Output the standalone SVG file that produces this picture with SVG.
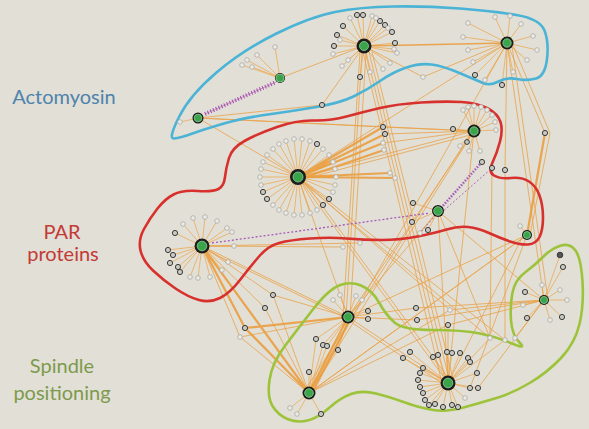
<svg xmlns="http://www.w3.org/2000/svg" width="589" height="429" viewBox="0 0 589 429">
<style>
.bg{fill:#e1dfd6}
.e{stroke:#eaa24a;stroke-width:1;fill:none;opacity:.8}
.eb{stroke:#eb9a35;stroke-width:2.2;fill:none;opacity:.85}
.s{stroke:#eca850;stroke-width:.9;fill:none;opacity:.85}
.d{fill:#c9c9c2;stroke:#3a3a3a;stroke-width:1}
.l{fill:#ecebe6;stroke:#a9a9a4;stroke-width:.8}
.hb{fill:#1d1d1b}
.hg{fill:#3aa44a;stroke:#8fd09a;stroke-width:.8}
.loop{fill:none;stroke-width:2.6;stroke-linejoin:round}
.lab{font-family:Lato,"Open Sans","DejaVu Sans",sans-serif;font-size:20px;text-anchor:middle}
.pd{fill:none;stroke:#a65bb8;stroke-width:1.3;stroke-dasharray:2 2}
</style>
<rect class="bg" width="589" height="429"/>
<g id="labels">
<text class="lab" x="64" y="104" fill="#4d83ad">Actomyosin</text>
<text class="lab" x="62" y="239" fill="#c33a36">PAR</text>
<text class="lab" x="63" y="261" fill="#c33a36">proteins</text>
<text class="lab" x="62" y="373" fill="#7d9a4c">Spindle</text>
<text class="lab" x="62" y="400" fill="#7d9a4c">positioning</text>
</g>
<g id="connectors">
<path class="s" d="M364 46L357 15M364 46L363 15M364 46L380 21M364 46L385 25M364 46L392 32M364 46L395 43M364 46L343 26M364 46L337 35M364 46L334 46M364 46L360 77M364 46L333 54M364 46L342 66M364 46L390 63M364 46L397 53M364 46L350 18M364 46L372 16M364 46L370 72M364 46L383 69M364 46L348 60M364 46L394 49M364 46L340 40M364 46L388 28M364 46L376 18"/>
<path class="s" d="M507 43L475 75M507 43L502 85M507 43L468 23M507 43L463 37M507 43L495 17M507 43L510 16M507 43L537 50M507 43L527 60M507 43L485 80M507 43L513 72M507 43L473 62M507 43L521 24M507 43L533 36M507 43L468 50"/>
<path class="s" d="M280 78L275 47M280 78L257 55M280 78L247 60M280 78L242 65M280 78L252 67M198 118L180 122"/>
<path class="s" d="M298 177L336 177M298 177L335 185M298 177L333 192M298 177L329 199M298 177L323 205M298 177L317 210M298 177L310 213M298 177L302 215M298 177L294 215M298 177L286 213M298 177L279 210M298 177L273 205M298 177L267 199M298 177L263 192M298 177L261 185M298 177L260 177M298 177L261 169M298 177L263 162M298 177L267 155M298 177L273 149M298 177L279 144M298 177L286 141M298 177L294 139M298 177L302 139M298 177L310 141M298 177L317 144M298 177L323 149M298 177L329 155M298 177L333 162M298 177L335 169"/>
<path class="s" d="M474 131L463 110M474 131L468 107M474 131L474 106M474 131L481 107M474 131L487 110M474 131L492 115M474 131L495 122M474 131L496 130M474 131L460 146M474 131L469 151M474 131L480 151M474 131L453 129M474 131L467 142"/>
<path class="s" d="M438 211L413 203M438 211L412 222M438 211L428 230M438 211L420 233"/>
<path class="s" d="M202 246L175 233M202 246L168 250M202 246L173 255M202 246L170 263M202 246L178 267M202 246L180 272M202 246L183 224M202 246L193 218M202 246L205 217M202 246L217 221M202 246L227 228M202 246L232 232M202 246L228 262M202 246L222 270M202 246L210 277M202 246L198 278M202 246L190 277M202 246L234 246"/>
<path class="s" d="M348 317L368 311M348 317L368 319M348 317L340 295M348 317L362 300M348 317L333 300M348 317L356 296M348 317L316 339M348 317L323 345M348 317L327 346M348 317L338 350"/>
<path class="s" d="M309 393L321 414M309 393L309 372M309 393L290 408M309 393L297 414M309 393L316 339M309 393L323 345M309 393L327 346M309 393L338 350"/>
<path class="s" d="M448 383L420 373M448 383L418 380M448 383L420 387M448 383L423 393M448 383L425 400M448 383L429 405M448 383L435 404M448 383L443 407M448 383L452 405M448 383L458 407M448 383L470 388M448 383L478 388M448 383L477 373M448 383L468 358M448 383L470 362M448 383L460 353M448 383L452 353M448 383L447 352M448 383L438 355M448 383L433 357M448 383L423 368M448 383L410 352M448 383L403 358M448 383L465 398M448 383L490 338M448 383L505 340"/>
<path class="s" d="M544 300L560 255M544 300L563 267M544 300L525 292M544 300L527 318M544 300L562 317M544 300L523 305M544 300L567 300M544 300L560 290M544 300L542 285M544 300L550 320M527 235L520 226"/>
<path class="eb" d="M298 177L383 127M298 177L385 134M298 177L383 143M300 179L384 150M298 177L390 173M298 177L395 178"/>
<path class="e" d="M383 127L474 131M385 134L474 131M383 143L474 131M298 177L474 131M300 180L474 134"/>
<path class="eb" d="M364 46L507 43" style="stroke-width:1.6"/>
<path class="e" d="M364 46L280 78M198 118L322 105M322 105L364 46M198 118L383 127M198 118L474 131M198 118L298 177"/>
<path class="e" d="M362 52L346 317M366 52L350 317M360 52L343 317M366 52L446 383M369 52L450 383M372 52L454 383M363 52L442 383"/>
<path class="e" d="M507 43L298 177M507 43L545 133M512 43L550 133M507 43L505 170M507 43L544 300M512 46L548 300M507 43L309 393M500 45L423 77M423 77L364 46"/>
<path class="eb" d="M545 133L527 235"/>
<path class="e" d="M550 133L530 235M298 177L348 317M298 177L448 383M301 177L452 383M298 177L505 340M300 180L490 338M298 177L450 310"/>
<path class="e" d="M474 131L309 393M474 131L348 317M474 131L448 383M470 135L305 390M438 211L348 317M438 211L448 383M438 211L544 300M438 211L490 338"/>
<path class="eb" d="M202 246L245 328M245 328L309 393M202 246L309 393M245 328L348 317"/>
<path class="e" d="M202 246L273 295M273 295L309 393M202 246L265 308M265 308L309 393M202 246L348 317M204 249L350 320M202 246L343 247M202 246L360 243M202 246L240 337M240 337L348 317M240 337L309 393M273 295L348 317"/>
<path class="e" d="M527 235L309 393M527 235L313 390M527 235L348 317M527 235L470 388M522 238L448 383"/>
<path class="eb" d="M348 317L309 393M351 318L312 393"/>
<path class="e" d="M348 317L448 383M348 320L446 386M348 317L416 308M416 308L544 300M348 317L417 320M417 320L544 300M309 393L450 310M450 310L544 300M309 393L448 325M448 325L544 300M448 325L448 383M544 300L478 388M515 338L544 300M505 170L505 340M492 168L490 338"/>
<path d="M205 114L276 82" fill="none" stroke="#d58ab8" stroke-width="1"/>
<path d="M205 114L276 82" fill="none" stroke="#9c4fb4" stroke-width="4" stroke-dasharray="1 2"/>
<path class="pd" d="M212 243L430 213"/>
<path d="M441 208L482 162" fill="none" stroke="#a65bb8" stroke-width="2.5" stroke-dasharray="1.5 1.5"/>
<path class="pd" d="M441 213L492 168M436 215L420 233" style="stroke-width:.9"/>
</g>
<g id="groups">
<path class="loop" stroke="#4bb4d6" d="M174,138.5 Q168,139 179,117 Q190,95 216.5,72.5 Q243,50 276.5,33.5 Q310,17 335,12 Q360,7 393.5,6.5 Q427,6 460,8.5 Q493,11 516.5,15 Q540,19 544.5,30.5 Q549,42 547,59 Q545,76 536,78.5 Q527,81 517,79 Q507,77 498.5,81.5 Q490,86 483,83 Q476,80 459.5,73 Q443,66 431.5,64.5 Q420,63 406.5,67.5 Q393,72 380,81 Q367,90 353.5,96.5 Q340,103 316.5,107 Q293,111 268,114.5 Q243,118 224,123.5 Q205,129 192.5,133.5 Q180,138 174,138.5 Z"/>
<path class="loop" stroke="#d8312d" d="M140.5,250.5 Q138,240 144,229 Q150,218 157.5,208.5 Q165,199 173.5,194.5 Q182,190 197.5,191 Q213,192 218.5,189 Q224,186 225,177 Q226,168 229,158 Q232,148 244.5,141 Q257,134 277,127 Q297,120 313.5,120.5 Q330,121 346.5,116.5 Q363,112 380,108 Q397,104 421,102.5 Q445,101 461.5,102 Q478,103 488,108.5 Q498,114 500.5,122 Q503,130 500,141.5 Q497,153 492.5,162.5 Q488,172 494,175.5 Q500,179 511,178 Q522,177 529,181.5 Q536,186 539.5,195.5 Q543,205 543,217.5 Q543,230 539.5,237 Q536,244 528,244.5 Q520,245 510,241.5 Q500,238 489,233 Q478,228 468,227 Q458,226 446.5,229.5 Q435,233 417.5,236.5 Q400,240 381.5,240 Q363,240 346.5,238.5 Q330,237 310,238.5 Q290,240 279,243 Q268,246 259,256.5 Q250,267 240,280 Q230,293 220,298 Q210,303 199,300 Q188,297 175.5,288.5 Q163,280 153,270.5 Q143,261 140.5,250.5 Z"/>
<path class="loop" stroke="#9dc33b" d="M272.5,406 Q267,397 269.5,380 Q272,363 284.5,346.5 Q297,330 312.5,310 Q328,290 339,285.5 Q350,281 361,285.5 Q372,290 379,302.5 Q386,315 394.5,322.5 Q403,330 433,330 Q463,330 480,333.5 Q497,337 512,343.5 Q527,350 519.5,342.5 Q512,335 511,320 Q510,305 512.5,292.5 Q515,280 525,272.5 Q535,265 543.5,256.5 Q552,248 561,245.5 Q570,243 575.5,250.5 Q581,258 582.5,281.5 Q584,305 579.5,324 Q575,343 561.5,357.5 Q548,372 530.5,382.5 Q513,393 496.5,398 Q480,403 463.5,407.5 Q447,412 433.5,410 Q420,408 405,402.5 Q390,397 376,393.5 Q362,390 351,394 Q340,398 329,408 Q318,418 307.5,420.5 Q297,423 287.5,419 Q278,415 272.5,406 Z"/>
</g>
<g id="leaves">
<circle class="d" cx="357" cy="15" r="2.6"/><circle class="d" cx="363" cy="15" r="2.6"/><circle class="d" cx="380" cy="21" r="2.6"/><circle class="d" cx="385" cy="25" r="2.6"/><circle class="d" cx="392" cy="32" r="2.6"/><circle class="d" cx="395" cy="43" r="2.6"/><circle class="d" cx="343" cy="26" r="2.6"/><circle class="d" cx="337" cy="35" r="2.6"/><circle class="d" cx="334" cy="46" r="2.6"/><circle class="d" cx="360" cy="77" r="2.6"/>
<circle class="l" cx="333" cy="54" r="2.3"/><circle class="l" cx="342" cy="66" r="2.3"/><circle class="l" cx="390" cy="63" r="2.3"/><circle class="l" cx="397" cy="53" r="2.3"/><circle class="l" cx="350" cy="18" r="2.3"/><circle class="l" cx="372" cy="16" r="2.3"/><circle class="l" cx="370" cy="72" r="2.3"/><circle class="l" cx="383" cy="69" r="2.3"/><circle class="l" cx="348" cy="60" r="2.3"/><circle class="l" cx="394" cy="49" r="2.3"/><circle class="l" cx="340" cy="40" r="2.3"/><circle class="l" cx="388" cy="28" r="2.3"/><circle class="l" cx="376" cy="18" r="2.3"/>
<circle class="d" cx="475" cy="75" r="2.6"/><circle class="d" cx="502" cy="85" r="2.6"/>
<circle class="l" cx="468" cy="23" r="2.3"/><circle class="l" cx="463" cy="37" r="2.3"/><circle class="l" cx="495" cy="17" r="2.3"/><circle class="l" cx="510" cy="16" r="2.3"/><circle class="l" cx="537" cy="50" r="2.3"/><circle class="l" cx="527" cy="60" r="2.3"/><circle class="l" cx="485" cy="80" r="2.3"/><circle class="l" cx="513" cy="72" r="2.3"/><circle class="l" cx="473" cy="62" r="2.3"/><circle class="l" cx="521" cy="24" r="2.3"/><circle class="l" cx="533" cy="36" r="2.3"/><circle class="l" cx="468" cy="50" r="2.3"/>
<circle class="l" cx="275" cy="47" r="2.3"/><circle class="l" cx="257" cy="55" r="2.3"/><circle class="l" cx="247" cy="60" r="2.3"/><circle class="l" cx="242" cy="65" r="2.3"/><circle class="l" cx="252" cy="67" r="2.3"/><circle class="l" cx="180" cy="122" r="2.3"/><circle class="l" cx="423" cy="77" r="2.3"/>
<circle class="d" cx="322" cy="105" r="2.6"/>
<circle class="l" cx="336" cy="177" r="2.3"/><circle class="l" cx="335" cy="185" r="2.3"/><circle class="l" cx="333" cy="192" r="2.3"/><circle class="d" cx="329" cy="199" r="2.6"/><circle class="d" cx="323" cy="205" r="2.6"/><circle class="l" cx="317" cy="210" r="2.3"/><circle class="l" cx="310" cy="213" r="2.3"/><circle class="l" cx="302" cy="215" r="2.3"/><circle class="l" cx="294" cy="215" r="2.3"/><circle class="l" cx="286" cy="213" r="2.3"/><circle class="l" cx="279" cy="210" r="2.3"/><circle class="l" cx="273" cy="205" r="2.3"/><circle class="d" cx="267" cy="199" r="2.6"/><circle class="d" cx="263" cy="192" r="2.6"/><circle class="l" cx="261" cy="185" r="2.3"/><circle class="l" cx="260" cy="177" r="2.3"/><circle class="l" cx="261" cy="169" r="2.3"/><circle class="l" cx="263" cy="162" r="2.3"/><circle class="l" cx="267" cy="155" r="2.3"/><circle class="l" cx="273" cy="149" r="2.3"/><circle class="l" cx="279" cy="144" r="2.3"/><circle class="l" cx="286" cy="141" r="2.3"/><circle class="l" cx="294" cy="139" r="2.3"/><circle class="l" cx="302" cy="139" r="2.3"/><circle class="l" cx="310" cy="141" r="2.3"/><circle class="d" cx="317" cy="144" r="2.6"/><circle class="l" cx="323" cy="149" r="2.3"/><circle class="l" cx="329" cy="155" r="2.3"/><circle class="l" cx="333" cy="162" r="2.3"/><circle class="l" cx="335" cy="169" r="2.3"/>
<circle class="d" cx="383" cy="127" r="2.6"/><circle class="d" cx="385" cy="134" r="2.6"/><circle class="l" cx="383" cy="143" r="2.3"/><circle class="l" cx="384" cy="150" r="2.3"/><circle class="l" cx="390" cy="173" r="2.3"/><circle class="l" cx="395" cy="178" r="2.3"/>
<circle class="l" cx="463" cy="110" r="2.3"/><circle class="l" cx="468" cy="107" r="2.3"/><circle class="l" cx="474" cy="106" r="2.3"/><circle class="l" cx="481" cy="107" r="2.3"/><circle class="l" cx="487" cy="110" r="2.3"/><circle class="l" cx="492" cy="115" r="2.3"/><circle class="l" cx="495" cy="122" r="2.3"/><circle class="l" cx="496" cy="130" r="2.3"/><circle class="l" cx="460" cy="146" r="2.3"/><circle class="l" cx="469" cy="151" r="2.3"/><circle class="l" cx="480" cy="151" r="2.3"/><circle class="d" cx="453" cy="129" r="2.6"/><circle class="d" cx="467" cy="142" r="2.4"/>
<circle class="d" cx="413" cy="203" r="2.6"/><circle class="d" cx="412" cy="222" r="2.6"/><circle class="d" cx="428" cy="230" r="2.6"/><circle class="l" cx="420" cy="233" r="2.3"/><circle class="d" cx="482" cy="162" r="2.6"/><circle class="d" cx="492" cy="168" r="2.6"/><circle class="d" cx="505" cy="170" r="2.6"/><circle class="d" cx="545" cy="133" r="2.6"/>
<circle class="d" cx="175" cy="233" r="2.6"/><circle class="d" cx="168" cy="250" r="2.6"/><circle class="d" cx="173" cy="255" r="2.6"/><circle class="d" cx="170" cy="263" r="2.6"/><circle class="d" cx="178" cy="267" r="2.6"/><circle class="d" cx="180" cy="272" r="2.6"/>
<circle class="l" cx="183" cy="224" r="2.3"/><circle class="l" cx="193" cy="218" r="2.3"/><circle class="l" cx="205" cy="217" r="2.3"/><circle class="l" cx="217" cy="221" r="2.3"/><circle class="l" cx="227" cy="228" r="2.3"/><circle class="l" cx="232" cy="232" r="2.3"/><circle class="l" cx="228" cy="262" r="2.3"/><circle class="l" cx="222" cy="270" r="2.3"/><circle class="l" cx="210" cy="277" r="2.3"/><circle class="l" cx="198" cy="278" r="2.3"/><circle class="l" cx="190" cy="277" r="2.3"/><circle class="l" cx="234" cy="246" r="2.3"/>
<circle class="l" cx="343" cy="247" r="2.3"/><circle class="l" cx="360" cy="243" r="2.3"/><circle class="l" cx="520" cy="226" r="2.3"/>
<circle class="d" cx="273" cy="295" r="2.6"/><circle class="d" cx="265" cy="308" r="2.6"/><circle class="d" cx="245" cy="328" r="2.6"/><circle class="l" cx="240" cy="337" r="2.3"/>
<circle class="d" cx="368" cy="311" r="2.6"/><circle class="d" cx="368" cy="319" r="2.6"/><circle class="l" cx="340" cy="295" r="2.3"/><circle class="l" cx="362" cy="300" r="2.3"/><circle class="l" cx="333" cy="300" r="2.3"/><circle class="l" cx="356" cy="296" r="2.3"/>
<circle class="d" cx="316" cy="339" r="2.6"/><circle class="d" cx="323" cy="345" r="2.6"/><circle class="d" cx="327" cy="346" r="2.6"/><circle class="d" cx="338" cy="350" r="2.6"/><circle class="d" cx="309" cy="372" r="2.6"/>
<circle class="d" cx="321" cy="414" r="2.6"/><circle class="l" cx="290" cy="408" r="2.3"/><circle class="l" cx="297" cy="414" r="2.3"/>
<circle class="d" cx="416" cy="308" r="2.6"/><circle class="d" cx="417" cy="320" r="2.6"/><circle class="d" cx="448" cy="325" r="2.6"/><circle class="l" cx="450" cy="310" r="2.3"/><circle class="l" cx="490" cy="338" r="2.3"/><circle class="l" cx="505" cy="340" r="2.3"/><circle class="l" cx="515" cy="338" r="2.3"/>
<circle class="d" cx="420" cy="373" r="2.6"/><circle class="d" cx="418" cy="380" r="2.6"/><circle class="d" cx="420" cy="387" r="2.6"/><circle class="d" cx="423" cy="393" r="2.6"/><circle class="d" cx="425" cy="400" r="2.6"/><circle class="d" cx="429" cy="405" r="2.6"/><circle class="d" cx="435" cy="404" r="2.6"/><circle class="d" cx="443" cy="407" r="2.6"/><circle class="d" cx="452" cy="405" r="2.6"/><circle class="d" cx="458" cy="407" r="2.6"/><circle class="d" cx="470" cy="388" r="2.6"/><circle class="d" cx="478" cy="388" r="2.6"/><circle class="d" cx="477" cy="373" r="2.6"/><circle class="d" cx="468" cy="358" r="2.6"/><circle class="d" cx="470" cy="362" r="2.6"/><circle class="d" cx="460" cy="353" r="2.6"/><circle class="d" cx="452" cy="353" r="2.6"/><circle class="d" cx="447" cy="352" r="2.6"/><circle class="d" cx="438" cy="355" r="2.6"/><circle class="d" cx="433" cy="357" r="2.6"/><circle class="d" cx="423" cy="368" r="2.6"/><circle class="d" cx="410" cy="352" r="2.6"/><circle class="d" cx="403" cy="358" r="2.6"/><circle class="l" cx="465" cy="398" r="2.3"/>
<circle class="d" cx="560" cy="255" r="2.8" style="fill:#555"/><circle class="d" cx="563" cy="267" r="2.6"/><circle class="d" cx="525" cy="292" r="2.6"/><circle class="d" cx="527" cy="318" r="2.6"/><circle class="d" cx="562" cy="317" r="2.6"/><circle class="l" cx="523" cy="305" r="2.3"/><circle class="l" cx="567" cy="300" r="2.3"/><circle class="l" cx="560" cy="290" r="2.3"/><circle class="l" cx="542" cy="285" r="2.3"/><circle class="l" cx="550" cy="320" r="2.3"/>
</g>
<g id="hub-A1"><circle class="hb" cx="364" cy="46" r="7.5"/><circle class="hg" cx="364" cy="46" r="4.5"/></g>
<g id="hub-A2"><circle class="hb" cx="507" cy="43" r="6.5"/><circle class="hg" cx="507" cy="43" r="4.2"/></g>
<g id="hub-A3"><circle class="hb" cx="280" cy="78" r="5"/><circle class="hg" cx="280" cy="78" r="4"/></g>
<g id="hub-A4"><circle class="hb" cx="198" cy="118" r="5.5"/><circle class="hg" cx="198" cy="118" r="3.8"/></g>
<g id="hub-P1"><circle class="hb" cx="298" cy="177" r="8"/><circle class="hg" cx="298" cy="177" r="5"/></g>
<g id="hub-P2"><circle class="hb" cx="474" cy="131" r="6.5"/><circle class="hg" cx="474" cy="131" r="4.2"/></g>
<g id="hub-P3"><circle class="hb" cx="438" cy="211" r="6"/><circle class="hg" cx="438" cy="211" r="4.3"/></g>
<g id="hub-P4"><circle class="hb" cx="202" cy="246" r="7.5"/><circle class="hg" cx="202" cy="246" r="4.8"/></g>
<g id="hub-P5"><circle class="hb" cx="527" cy="235" r="5"/><circle class="hg" cx="527" cy="235" r="3.5"/></g>
<g id="hub-S1"><circle class="hb" cx="348" cy="317" r="6.5"/><circle class="hg" cx="348" cy="317" r="4.3"/></g>
<g id="hub-S2"><circle class="hb" cx="309" cy="393" r="6.5"/><circle class="hg" cx="309" cy="393" r="4.3"/></g>
<g id="hub-S3"><circle class="hb" cx="448" cy="383" r="7.5"/><circle class="hg" cx="448" cy="383" r="4.8"/></g>
<g id="hub-S4"><circle class="hb" cx="544" cy="300" r="5"/><circle class="hg" cx="544" cy="300" r="3.6"/></g>
</svg>
